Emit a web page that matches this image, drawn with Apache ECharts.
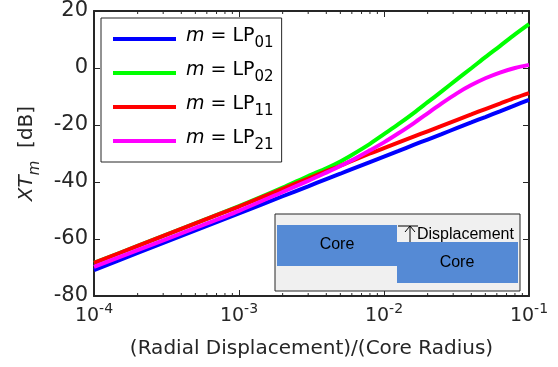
<!DOCTYPE html>
<html>
<head>
<meta charset="utf-8">
<script src="https://cdn.jsdelivr.net/npm/echarts@6/dist/echarts.min.js"></script>
<style>
  html, body { margin: 0; padding: 0; background: #fff; }
  #chart { width: 558px; height: 367px; }
</style>
</head>
<body>
<div id="chart"></div>
<script>
// (radial displacement) / (core radius)
const ratio = [1e-4, 2e-4, 5e-4, 1e-3, 2e-3, 3e-3, 4e-3, 5e-3, 6e-3, 8e-3, 1e-2,
  1.25e-2, 1.6e-2, 2e-2, 2.5e-2, 3.2e-2, 4e-2, 5e-2, 6.3e-2, 8e-2, 1e-1]
// crosstalk XT_m in dB
const xtLP01 = [-70.9, -64.9, -57.0, -51.0, -45.0, -41.5, -39.0, -37.1, -35.5, -33.0, -31.1,
  -29.2, -27.0, -25.1, -23.2, -21.0, -19.1, -17.2, -15.2, -13.1, -11.2]
const xtLP02 = [-68.4, -62.4, -54.5, -48.5, -42.0, -37.9, -35.2, -32.8, -30.5, -26.6, -23.2,
  -19.8, -15.8, -12.0, -8.2, -3.9, -0.1, 3.8, 7.7, 11.8, 15.4]
const xtLP11 = [-68.4, -62.4, -54.5, -48.6, -42.4, -38.8, -36.2, -34.3, -32.6, -30.0, -28.1,
  -26.2, -24.1, -22.2, -20.3, -18.2, -16.3, -14.4, -12.5, -10.5, -8.8]
const xtLP21 = [-69.8, -63.9, -56.1, -50.1, -43.5, -39.6, -36.7, -34.4, -32.4, -28.9, -26.1,
  -23.0, -19.4, -15.9, -12.4, -8.8, -6.0, -3.6, -1.6, 0.0, 1.1]

const modeNames = ['LP01', 'LP02', 'LP11', 'LP21']
const modeColors = ['#0000ff', '#00ff00', '#ff0000', '#ff00ff']
const yTicks = [-80, -60, -40, -20, 0, 20]
const xDecades = [1e-4, 1e-3, 1e-2, 1e-1]

const seriesData = [xtLP01, xtLP02, xtLP11, xtLP21]
const FONT = 'DejaVu Sans, sans-serif'
const INSET_FONT = 'Liberation Sans, Arial, sans-serif'
const INK = '#262626'

// minor ticks of the log axis (2..9 in every decade)
const minorTicks = []
for (let i = 0; i < xDecades.length - 1; i++) {
  for (let k = 2; k <= 9; k++) minorTicks.push([k * xDecades[i], yTicks[0]])
}

const chart = echarts.init(document.getElementById('chart'))

const baseX = {
  type: 'log',
  logBase: 10,
  min: xDecades[0],
  max: xDecades[xDecades.length - 1],
  axisLine: { show: true, onZero: false, lineStyle: { color: INK, width: 2 } },
  axisTick: { show: true, inside: true, length: 6, lineStyle: { color: INK, width: 1 } },
  splitLine: { show: false }
}
const baseY = {
  type: 'value',
  min: yTicks[0],
  max: yTicks[yTicks.length - 1],
  interval: 20,
  axisLine: { show: true, onZero: false, lineStyle: { color: INK, width: 2 } },
  axisTick: { show: true, inside: true, length: 6, lineStyle: { color: INK, width: 1 } },
  splitLine: { show: false }
}

chart.setOption({
  animation: false,
  textStyle: { fontFamily: FONT },
  grid: { left: 94, right: 29, top: 11, bottom: 71 },
  legend: {
    data: modeNames,
    orient: 'vertical',
    left: 101,
    top: 18,
    padding: [9, 8, 9, 12],
    itemGap: 10,
    itemWidth: 63,
    itemHeight: 4,
    icon: 'rect',
    backgroundColor: '#fff',
    borderColor: INK,
    borderWidth: 1,
    selectedMode: false,
    formatter: function (name) {
      return '{i|m}{n| = LP}{s|' + name.slice(2) + '}'
    },
    textStyle: {
      padding: [0, 0, 0, 5],
      rich: {
        i: { fontFamily: FONT, fontSize: 19, fontStyle: 'italic', color: '#000', lineHeight: 24, verticalAlign: 'top' },
        n: { fontFamily: FONT, fontSize: 19, color: '#000', lineHeight: 24, verticalAlign: 'top' },
        s: { fontFamily: FONT, fontSize: 15, color: '#000', lineHeight: 14, verticalAlign: 'bottom' }
      }
    }
  },
  xAxis: [
    Object.assign({}, baseX, {
      position: 'bottom',
      name: '(Radial Displacement)/(Core Radius)',
      nameLocation: 'middle',
      nameGap: 43,
      nameTextStyle: { fontFamily: FONT, fontSize: 20, color: INK },
      axisLabel: {
        margin: 6,
        formatter: function (v) {
          return '{b|10}{e|' + Math.round(Math.log10(v)) + '}'
        },
        rich: {
          b: { fontFamily: FONT, fontSize: 19, color: INK, lineHeight: 24, verticalAlign: 'bottom' },
          e: { fontFamily: FONT, fontSize: 14, color: INK, lineHeight: 13, verticalAlign: 'top' }
        }
      }
    }),
    Object.assign({}, baseX, { position: 'top', axisLabel: { show: false } })
  ],
  yAxis: [
    Object.assign({}, baseY, {
      position: 'left',
      name: '{a|XT}{m|m}{b|  [dB]}',
      nameLocation: 'middle',
      nameRotate: 90,
      nameGap: 50,
      nameTextStyle: {
        rich: {
          a: { fontFamily: FONT, fontSize: 20, fontStyle: 'italic', color: INK, lineHeight: 26, verticalAlign: 'top' },
          m: { fontFamily: FONT, fontSize: 15, fontStyle: 'italic', color: INK, lineHeight: 15, verticalAlign: 'bottom' },
          b: { fontFamily: FONT, fontSize: 20, color: INK, lineHeight: 26, verticalAlign: 'top' }
        }
      },
      axisLabel: { margin: 6, fontFamily: FONT, fontSize: 21, color: INK }
    }),
    Object.assign({}, baseY, { position: 'right', axisLabel: { show: false } })
  ],
  series: modeNames.map(function (name, i) {
    return {
      name: name,
      type: 'line',
      data: ratio.map(function (r, j) { return [r, seriesData[i][j]] }),
      showSymbol: false,
      smooth: 0.3,
      color: modeColors[i],
      lineStyle: { width: 4, color: modeColors[i] },
      z: 2 + i
    }
  }).concat([{
    type: 'custom',
    silent: true,
    clip: false,
    z: 10,
    data: minorTicks,
    renderItem: function (params, api) {
      const pb = api.coord([api.value(0), yTicks[0]])
      const pt = api.coord([api.value(0), yTicks[yTicks.length - 1]])
      const st = { stroke: INK, lineWidth: 1 }
      return {
        type: 'group',
        children: [
          { type: 'line', shape: { x1: pb[0], y1: pb[1], x2: pb[0], y2: pb[1] - 3 }, style: st },
          { type: 'line', shape: { x1: pt[0], y1: pt[1], x2: pt[0], y2: pt[1] + 3 }, style: st }
        ]
      }
    }
  }]),
  // inset sketch of the displaced core
  graphic: [
    { type: 'rect', z: 20, shape: { x: 275, y: 214, width: 245, height: 77 }, style: { fill: '#f0f0f0', stroke: INK, lineWidth: 1 } },
    { type: 'rect', z: 21, shape: { x: 277, y: 225, width: 120, height: 41 }, style: { fill: '#558ad5' } },
    { type: 'rect', z: 21, shape: { x: 397, y: 242, width: 121, height: 41 }, style: { fill: '#558ad5' } },
    { type: 'text', z: 22, x: 337, y: 245, style: { text: 'Core', font: '16px ' + INSET_FONT, fill: '#000', align: 'center', verticalAlign: 'middle' } },
    { type: 'text', z: 22, x: 457, y: 263, style: { text: 'Core', font: '16px ' + INSET_FONT, fill: '#000', align: 'center', verticalAlign: 'middle' } },
    { type: 'text', z: 22, x: 417, y: 235, style: { text: 'Displacement', font: '16px ' + INSET_FONT, fill: '#000', align: 'left', verticalAlign: 'middle' } },
    { type: 'polyline', z: 22, shape: { points: [[398, 226], [418, 226]] }, style: { stroke: '#000', lineWidth: 1, fill: null } },
    { type: 'polyline', z: 22, shape: { points: [[410, 242], [410, 226]] }, style: { stroke: '#000', lineWidth: 1, fill: null } },
    { type: 'polyline', z: 22, shape: { points: [[405, 232], [410, 226], [415, 232]] }, style: { stroke: '#000', lineWidth: 1, fill: null } }
  ]
})
</script>
</body>
</html>
